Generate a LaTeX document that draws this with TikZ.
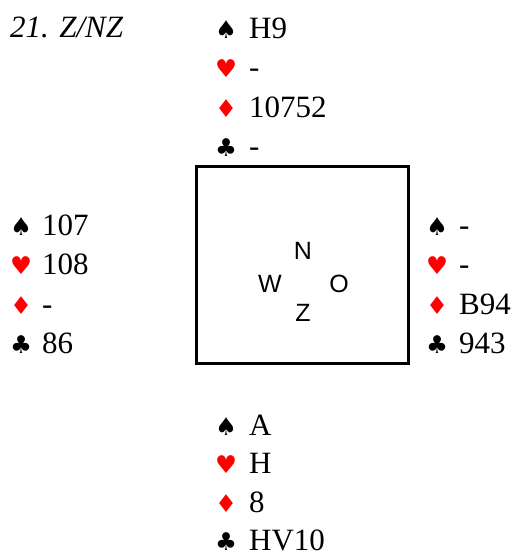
\documentclass[tikz,border=0pt]{standalone}
\usepackage{fontspec}
\setmainfont{Liberation Serif}
\newfontfamily\suitfont{DejaVu Sans}
\newfontfamily\compassfont{Liberation Sans}
\definecolor{suitred}{RGB}{255,0,0}
\begin{document}
\begin{tikzpicture}[x=1pt,y=-1pt,
  cardtext/.style={anchor=base west, inner sep=0pt, font=\fontsize{31}{36}\selectfont},
  titletext/.style={anchor=base west, inner sep=0pt, font=\fontsize{31}{36}\selectfont\itshape},
  suitsym/.style={anchor=base west, inner sep=0pt, font=\suitfont\fontsize{24.5}{28}\selectfont},
  redsuit/.style={suitsym, text=suitred},
  compass/.style={anchor=base, inner sep=0pt, font=\compassfont\fontsize{25}{28}\selectfont},
  tablebox/.style={draw, line width=3pt, minimum width=212pt, minimum height=197pt, inner sep=0pt}]
\useasboundingbox (0,0) rectangle (513,554);
\node[titletext] (title) at (10,37) {21. Z/NZ};
% North
\node[suitsym] (ns) at (215,38) {♠};  \node[cardtext] (nst) at (249,38) {H9};
\node[redsuit] (nh) at (215,77.5) {♥}; \node[cardtext] (nht) at (249,77.5) {-};
\node[redsuit] (nd) at (215,117) {♦}; \node[cardtext] (ndt) at (249,117) {10752};
\node[suitsym] (nc) at (215,156.5) {♣}; \node[cardtext] (nct) at (249,156.5) {-};
% West
\node[suitsym] (ws) at (10,235) {♠};  \node[cardtext] (wst) at (42,235) {107};
\node[redsuit] (wh) at (10,274.5) {♥}; \node[cardtext] (wht) at (42,274.5) {108};
\node[redsuit] (wd) at (10,314) {♦}; \node[cardtext] (wdt) at (42,314) {-};
\node[suitsym] (wc) at (10,353.5) {♣}; \node[cardtext] (wct) at (42,353.5) {86};
% East
\node[suitsym] (es) at (426,235) {♠};  \node[cardtext] (est) at (459,235) {-};
\node[redsuit] (eh) at (426,274.5) {♥}; \node[cardtext] (eht) at (459,274.5) {-};
\node[redsuit] (ed) at (426,314) {♦}; \node[cardtext] (edt) at (459,314) {B94};
\node[suitsym] (ec) at (426,353.5) {♣}; \node[cardtext] (ect) at (459,353.5) {943};
% South
\node[suitsym] (ss) at (215,435) {♠};  \node[cardtext] (sst) at (249,435) {A};
\node[redsuit] (sh) at (215,473.5) {♥}; \node[cardtext] (sht) at (249,473.5) {H};
\node[redsuit] (sd) at (215,512) {♦}; \node[cardtext] (sdt) at (249,512) {8};
\node[suitsym] (sc) at (215,550) {♣}; \node[cardtext] (sct) at (249,550) {HV10};
% Table
\node[tablebox] (table) at (302,264.5) {};
\node[compass] (cn) at (303,259) {N};
\node[compass] (cw) at (270,292) {W};
\node[compass] (co) at (339,292) {O};
\node[compass] (cz) at (303,321) {Z};
\end{tikzpicture}
\end{document}
